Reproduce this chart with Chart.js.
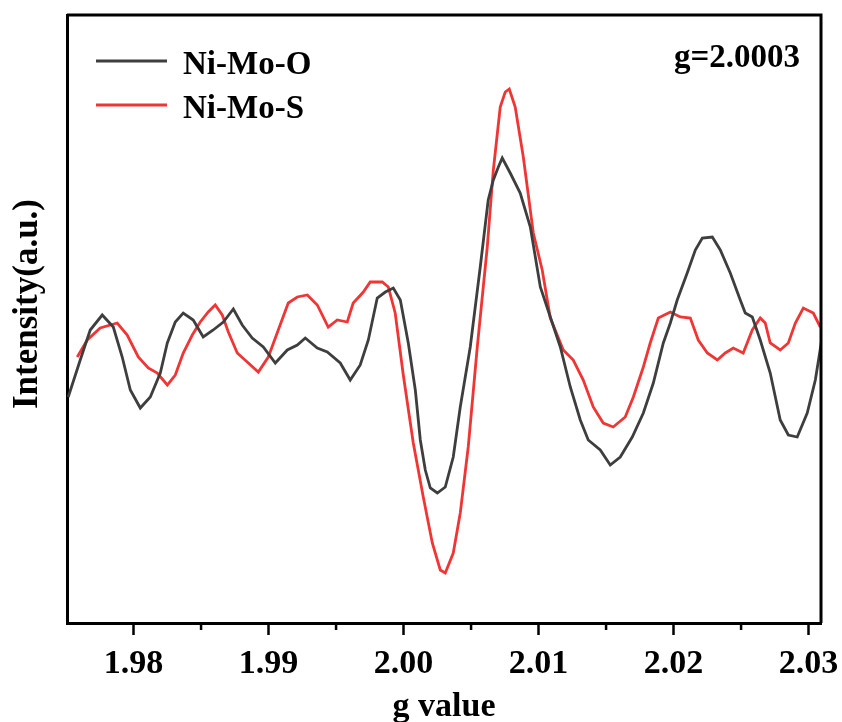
<!DOCTYPE html>
<html>
<head>
<meta charset="utf-8">
<script src="https://cdn.jsdelivr.net/npm/chart.js@4.4.1/dist/chart.umd.min.js"></script>
<style>
html,body{margin:0;padding:0;background:#fff;}
#wrap{width:842px;height:722px;}
</style>
</head>
<body>
<div id="wrap"><canvas id="c" width="842" height="722"></canvas></div>
<script>
// ---- data ----
const seriesNames = ["Ni-Mo-O", "Ni-Mo-S"];
const seriesColors = ["#3e3e3e", "#f03535"];
const annotationText = "g=2.0003";
const xTitle = "g value";
const yTitle = "Intensity(a.u.)";
const tickLabels = ["1.98", "1.99", "2.00", "2.01", "2.02", "2.03"];
const minorTicks = [1.985, 1.995, 2.005, 2.015, 2.025];

const gO = [1.97516,1.97605,1.97679,1.97768,1.97850,1.97916,1.97976,1.98050,1.98124,1.98198,1.98250,1.98309,1.98368,1.98442,1.98516,1.98590,1.98665,1.98739,1.98805,1.98879,1.98961,1.99050,1.99139,1.99213,1.99272,1.99361,1.99435,1.99531,1.99605,1.99679,1.99739,1.99805,1.99865,1.99924,1.99976,2.00035,2.00087,2.00124,2.00161,2.00198,2.00250,2.00309,2.00368,2.00420,2.00494,2.00568,2.00627,2.00665,2.00702,2.00731,2.00790,2.00864,2.00939,2.01013,2.01087,2.01161,2.01235,2.01309,2.01368,2.01457,2.01531,2.01605,2.01694,2.01776,2.01850,2.01924,2.01976,2.02027,2.02101,2.02161,2.02213,2.02287,2.02346,2.02420,2.02494,2.02531,2.02583,2.02642,2.02716,2.02790,2.02850,2.02916,2.02990,2.03050,2.03101];
const iO = [22.6,26.3,29.3,30.8,29.6,26.6,23.3,21.5,22.6,25.0,28.0,30.1,31.0,30.3,28.6,29.3,30.1,31.4,29.8,28.5,27.6,26.0,27.3,27.8,28.5,27.5,27.1,26.0,24.3,25.8,28.3,32.5,33.1,33.5,32.3,28.0,23.3,18.3,15.3,13.5,13.0,13.6,16.6,21.6,27.6,35.6,42.3,44.3,45.6,46.5,45.0,43.0,39.6,33.6,30.6,27.6,23.6,20.3,18.3,17.3,15.8,16.6,18.6,21.0,24.0,28.0,30.0,32.3,35.0,37.3,38.5,38.6,37.3,35.0,32.3,31.0,30.6,28.3,25.0,20.3,18.8,18.6,21.0,24.3,28.6];

const gS = [1.97583,1.97657,1.97753,1.97879,1.97953,1.98035,1.98109,1.98176,1.98250,1.98309,1.98368,1.98435,1.98494,1.98553,1.98605,1.98657,1.98702,1.98768,1.98842,1.98924,1.98998,1.99072,1.99146,1.99213,1.99287,1.99361,1.99442,1.99509,1.99583,1.99627,1.99702,1.99753,1.99842,1.99887,1.99938,1.99998,2.00072,2.00146,2.00213,2.00272,2.00309,2.00368,2.00420,2.00479,2.00546,2.00620,2.00665,2.00716,2.00753,2.00783,2.00827,2.00887,2.00961,2.01027,2.01087,2.01183,2.01257,2.01331,2.01405,2.01479,2.01553,2.01642,2.01702,2.01776,2.01827,2.01887,2.01976,2.02050,2.02124,2.02183,2.02250,2.02324,2.02383,2.02442,2.02516,2.02583,2.02642,2.02679,2.02716,2.02790,2.02850,2.02902,2.02961,2.03035,2.03087];
const iS = [26.6,28.3,29.5,30.0,28.8,26.6,25.5,25.0,23.8,24.8,27.0,28.8,30.1,31.1,31.8,30.8,29.1,27.0,26.1,25.1,26.6,29.3,32.0,32.6,32.8,31.8,29.6,30.3,30.1,32.0,33.1,34.1,34.1,33.6,31.0,24.8,18.0,12.6,8.0,5.3,5.0,7.0,11.0,17.6,27.6,37.6,45.3,51.6,53.1,53.4,51.6,46.6,39.0,35.3,30.5,27.3,26.3,24.3,21.6,20.0,19.6,20.6,22.6,25.6,28.0,30.5,31.1,30.6,30.5,28.3,27.0,26.3,27.0,27.5,27.0,29.3,30.5,30.0,28.0,27.3,28.0,30.0,31.5,31.0,29.6];

const xMin = 1.97507, xMax = 2.03092;
const yMin = 0, yMax = 60.8;

// ---- build ----
const FONT = "'Liberation Serif','Times New Roman',serif";
const toPts = (xs, ys) => xs.map((x, i) => ({x: x, y: ys[i]}));

const framePlugin = {
  id: 'frame',
  afterDatasetsDraw(chart) {
    const {ctx, chartArea: a, scales} = chart;
    ctx.save();
    ctx.strokeStyle = '#000';
    ctx.lineWidth = 3;
    ctx.beginPath();
    ctx.moveTo(a.left, a.top);
    ctx.lineTo(a.right, a.top);
    ctx.lineTo(a.right, a.bottom);
    ctx.stroke();
    // minor ticks
    ctx.lineWidth = 2.5;
    minorTicks.forEach(v => {
      const px = scales.x.getPixelForValue(v);
      ctx.beginPath();
      ctx.moveTo(px, a.bottom);
      ctx.lineTo(px, a.bottom + 7);
      ctx.stroke();
    });
    // legend
    ctx.font = "bold 33px " + FONT;
    ctx.textBaseline = 'alphabetic';
    ctx.textAlign = 'left';
    chart.data.datasets.forEach((ds, i) => {
      const yy = 61 + i * 44;
      ctx.strokeStyle = ds.borderColor;
      ctx.lineWidth = 3;
      ctx.beginPath();
      ctx.moveTo(96, yy);
      ctx.lineTo(167, yy);
      ctx.stroke();
      ctx.fillStyle = '#000';
      ctx.fillText(ds.label, 183, yy + 13);
    });
    ctx.textAlign = 'right';
    ctx.fillText(annotationText, 800, 67);
    // y axis title
    ctx.font = "bold 35px " + FONT;
    ctx.translate(28, 304);
    ctx.rotate(-Math.PI / 2);
    ctx.textAlign = 'center';
    ctx.textBaseline = 'middle';
    ctx.fillText(yTitle, 0, 0);
    ctx.restore();
  }
};

new Chart(document.getElementById('c'), {
  type: 'line',
  data: {
    datasets: [
      {label: seriesNames[0], data: toPts(gO, iO), borderColor: seriesColors[0], borderWidth: 2.8, pointRadius: 0, tension: 0, fill: false},
      {label: seriesNames[1], data: toPts(gS, iS), borderColor: seriesColors[1], borderWidth: 2.8, pointRadius: 0, tension: 0, fill: false}
    ]
  },
  options: {
    responsive: false,
    animation: false,
    events: [],
    layout: {padding: {top: 15, right: 21, left: 0, bottom: 0}},
    plugins: {legend: {display: false}, tooltip: {enabled: false}},
    scales: {
      x: {
        type: 'linear',
        min: xMin, max: xMax,
        afterBuildTicks(scale) {
          scale.ticks = tickLabels.map(t => ({value: parseFloat(t)}));
        },
        afterFit(scale) { scale.height = 99; scale.paddingLeft = 0; scale.paddingRight = 0; },
        ticks: {
          autoSkip: false,
          maxRotation: 0,
          padding: 9,
          color: '#000',
          font: {family: FONT, size: 34, weight: 'bold'},
          callback: (v) => tickLabels.find(t => Math.abs(parseFloat(t) - v) < 1e-6) || ''
        },
        grid: {drawOnChartArea: false, drawTicks: true, tickLength: 12, tickWidth: 2.5, tickColor: '#000'},
        border: {display: true, color: '#000', width: 3},
        title: {display: true, text: xTitle, color: '#000', font: {family: FONT, size: 34, weight: 'bold'}, padding: {top: 0, bottom: -6}}
      },
      y: {
        type: 'linear',
        min: yMin, max: yMax,
        afterFit(scale) { scale.width = 67; scale.paddingTop = 0; scale.paddingBottom = 0; },
        ticks: {display: false},
        grid: {display: false},
        border: {display: true, color: '#000', width: 3},
        title: {display: false}
      }
    }
  },
  plugins: [framePlugin]
});
</script>
</body>
</html>
